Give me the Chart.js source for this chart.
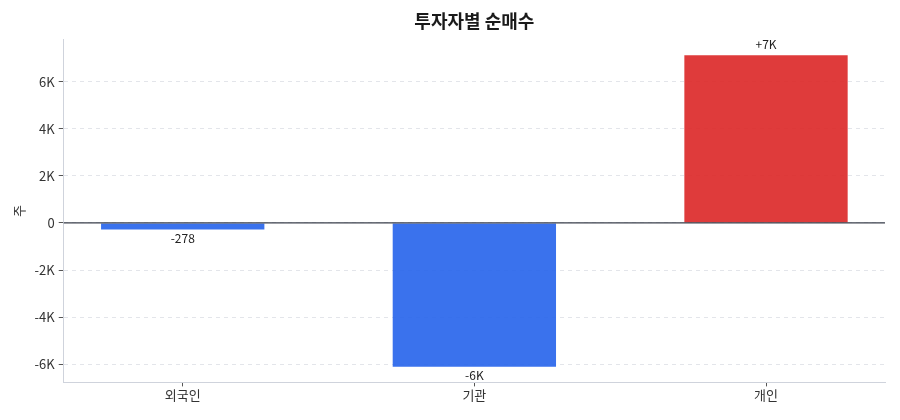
<!DOCTYPE html>
<html>
<head>
<meta charset="utf-8">
<script src="https://cdn.jsdelivr.net/npm/chart.js@4/dist/chart.umd.min.js"></script>
<style>
  html, body { margin: 0; padding: 0; background: #fff; }
  #wrap { width: 900px; height: 420px; }
</style>
</head>
<body>
<div id="wrap"><canvas id="chart"></canvas></div>
<script>
const categories = ['외국인', '기관', '개인']
const netBuy = [-278, -6110, 7120]
const yTicks = [-6000, -4000, -2000, 0, 2000, 4000, 6000]
const yMin = -6772
const yMax = 7782

const FONT = "'Noto Sans CJK KR', 'Noto Sans', sans-serif"

function fmtK(v) {
  if (v === 0) return '0'
  return (v / 1000) + 'K'
}

function fmtLabel(v) {
  let s = Math.abs(v) >= 1000 ? Math.round(v / 1000) + 'K' : String(v)
  return v > 0 ? '+' + s : s
}

// zero line over the bars + value labels
const overlay = {
  id: 'overlay',
  afterDatasetsDraw(chart) {
    const { ctx, chartArea, scales } = chart
    const y0 = scales.y.getPixelForValue(0)
    ctx.save()
    ctx.strokeStyle = '#3a3f4b'
    ctx.lineWidth = 1.3
    ctx.beginPath()
    ctx.moveTo(chartArea.left, y0)
    ctx.lineTo(chartArea.right, y0)
    ctx.stroke()

    ctx.font = '12px ' + FONT
    ctx.fillStyle = '#222'
    ctx.textAlign = 'center'
    chart.getDatasetMeta(0).data.forEach((bar, i) => {
      const v = netBuy[i]
      if (v >= 0) {
        ctx.textBaseline = 'bottom'
        ctx.fillText(fmtLabel(v), bar.x, bar.y - 5)
      } else {
        ctx.textBaseline = 'top'
        ctx.fillText(fmtLabel(v), bar.x, bar.y + 3)
      }
    })
    ctx.restore()
  }
}

new Chart(document.getElementById('chart'), {
  type: 'bar',
  data: {
    datasets: [{
      data: netBuy.map((v, i) => ({ x: i, y: v })),
      backgroundColor: netBuy.map(v => v >= 0 ? 'rgba(220,38,38,0.9)' : 'rgba(37,99,235,0.9)'),
      borderWidth: 0,
      barPercentage: 0.56,
      categoryPercentage: 1
    }]
  },
  options: {
    responsive: true,
    maintainAspectRatio: false,
    animation: false,
    layout: { padding: { left: 11, right: 15, top: 4, bottom: 16 } },
    plugins: {
      legend: { display: false },
      tooltip: { enabled: false },
      title: {
        display: true,
        text: '투자자별 순매수',
        fullSize: false,
        color: '#1a1a1a',
        font: { family: FONT, size: 18, weight: 'bold' },
        padding: { top: 6, bottom: 8 }
      }
    },
    scales: {
      x: {
        type: 'linear',
        min: -0.408,
        max: 2.408,
        offset: false,
        afterBuildTicks: s => { s.ticks = categories.map((c, i) => ({ value: i })) },
        ticks: {
          callback: v => categories[v],
          color: '#333',
          font: { family: FONT, size: 13 },
          padding: 1
        },
        grid: { offset: false, drawOnChartArea: false, tickLength: 4, tickColor: '#555', tickWidth: 1 },
        border: { color: '#cfd3dc', width: 1 }
      },
      y: {
        min: yMin,
        max: yMax,
        afterBuildTicks: s => { s.ticks = yTicks.map(v => ({ value: v })) },
        ticks: {
          callback: v => fmtK(v),
          color: '#333',
          font: { family: FONT, size: 13 },
          padding: 4
        },
        title: {
          display: true,
          text: '주',
          color: '#333',
          font: { family: FONT, size: 13 },
          padding: { top: 0, bottom: 4 }
        },
        grid: { color: '#e3e5ea', lineWidth: 1, tickLength: 5, tickColor: '#555', tickWidth: 1 },
        border: { color: '#cfd3dc', width: 1, dash: [4, 4] }
      }
    }
  },
  plugins: [overlay]
})
</script>
</body>
</html>
